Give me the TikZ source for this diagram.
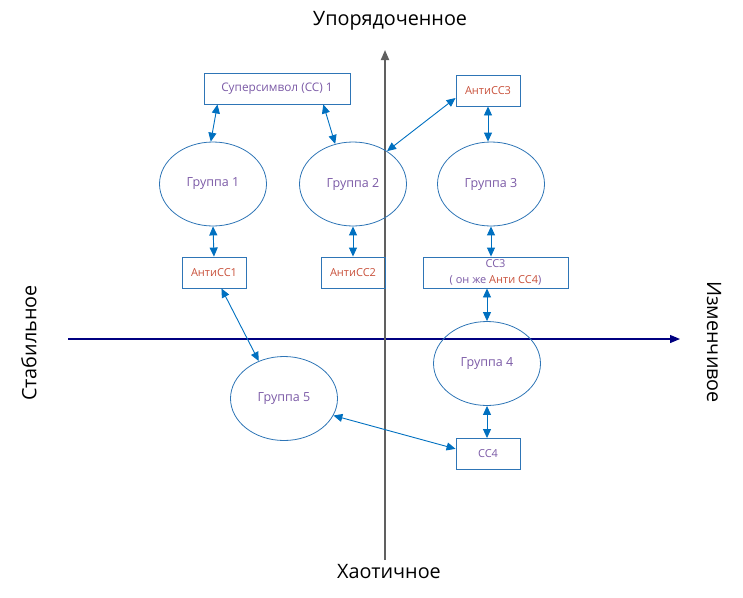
\documentclass[tikz,border=0pt]{standalone}
\usepackage{fontspec}
\setmainfont{Open Sans}
\usetikzlibrary{arrows.meta,shapes.geometric}
\definecolor{link}{HTML}{0070C0}
\definecolor{rim}{HTML}{2E75B6}
\definecolor{plum}{HTML}{7B5AA6}
\definecolor{rust}{HTML}{C8503A}
\definecolor{axisnavy}{HTML}{000080}
\definecolor{axisgray}{HTML}{606060}

\begin{document}
\begin{tikzpicture}[x=1pt,y=-1pt,every node/.style={font=\fontsize{11}{16}\selectfont},
  box/.style={draw=rim,line width=0.9pt,minimum width=64pt,minimum height=31pt,inner sep=1pt},
  grp/.style={draw=rim,line width=0.8pt,ellipse,minimum width=107pt,minimum height=84pt,inner sep=0pt,text=plum,font=\fontsize{12.5}{15}\selectfont},
  dbl/.style={link,line width=0.9pt,{Triangle[length=9pt,width=8pt]}-{Triangle[length=9pt,width=8pt]}},
  axislabel/.style={font=\fontsize{19.8}{24}\selectfont}]
\useasboundingbox (0,0) rectangle (743,597);
% axes
\coordinate (xl) at (68,339);
\coordinate (xr) at (680,339);
\coordinate (yb) at (385,560);
\coordinate (yt) at (385,50);
\draw[axisnavy,line width=1.2pt,-{Triangle[length=10pt,width=8pt]}] (xl) -- (xr);
\draw[axisgray,line width=1.8pt,-{Triangle[length=10pt,width=8pt]}] (yb) -- (yt);
\node[axislabel] (ord) at (390,21) {Упорядоченное};
\node[axislabel] (chaos) at (389,572) {Хаотичное};
\node[axislabel,rotate=90] (stab) at (29,343) {Стабильное};
\node[axislabel,rotate=-90] (var) at (714,342) {Изменчивое};
% boxes
\node[box,minimum width=146pt,text=plum,font=\fontsize{11.8}{14}\selectfont] (ss1) at (277,88.5) {Суперсимвол (СС) 1};
\node[box,text=rust] (anti3) at (488,90.5) {АнтиСС3};
\node[box,text=rust] (anti1) at (214,272.5) {АнтиСС1};
\node[box,text=rust] (anti2) at (353,272.5) {АнтиСС2};
\node[box,minimum width=145pt,align=center,text=plum] (ss3) at (495.5,272.5) {СС3\\( он же \textcolor{rust}{Анти СС4})};
\node[box,text=plum] (ss4) at (488,454) {СС4};
% groups
\node[grp] (g1) at (213,184) {Группа 1};
\node[grp] (g2) at (353,184) {Группа 2};
\node[grp] (g3) at (491,184) {Группа 3};
\node[grp] (g4) at (487,363.5) {Группа 4};
\node[grp] (g5) at (284,398.5) {Группа 5};
% links
\draw[dbl] (ss1.-165) -- (g1.93);
\draw[dbl] (ss1.-19) -- (g2.114);
\draw[dbl] (g2.44) -- (anti3.-167);
\draw[dbl] (anti3.south) -- (anti3.south |- g3.north);
\draw[dbl] (g1.south) -- (anti1.north);
\draw[dbl] (g2.south) -- (anti2.north);
\draw[dbl] (g3.south) -- (g3.south |- ss3.north);
\draw[dbl] (g4.north |- ss3.south) -- (g4.north);
\draw[dbl] (g4.south) -- (g4.south |- ss4.north);
\draw[dbl] (anti1.-65) -- (g5.124);
\draw[dbl] (g5.-19) -- (ss4.171);
\end{tikzpicture}
\end{document}
